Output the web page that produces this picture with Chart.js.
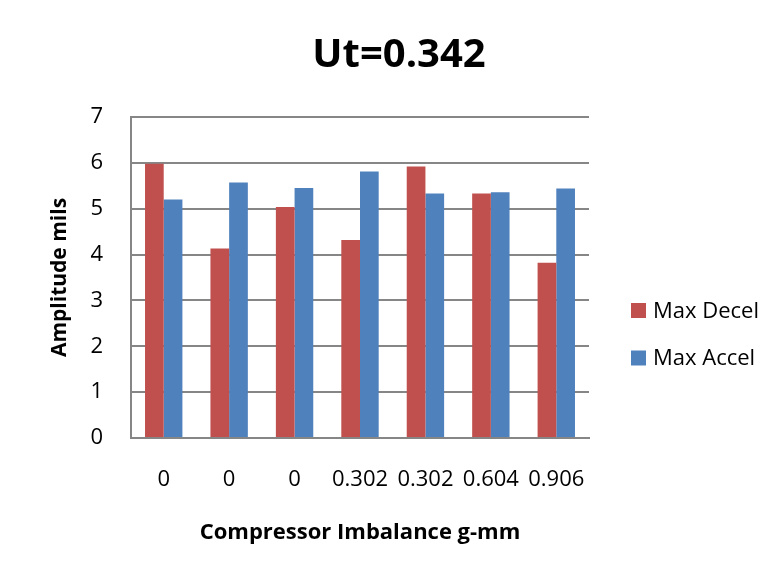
<!DOCTYPE html>
<html>
<head>
<meta charset="utf-8">
<script src="https://cdn.jsdelivr.net/npm/chart.js@4.4.0/dist/chart.umd.min.js"></script>
<style>
  html, body { margin: 0; padding: 0; background: #ffffff; }
  #wrap { width: 778px; height: 578px; position: relative; }
</style>
</head>
<body>
<div id="wrap"><canvas id="c" width="778" height="578"></canvas></div>
<script>
const chartTitle = "Ut=0.342";
const categories = ["0", "0", "0", "0.302", "0.302", "0.604", "0.906"];
const seriesNames = ["Max Decel", "Max Accel"];
const maxDecel = [5.98, 4.13, 5.04, 4.32, 5.92, 5.33, 3.82];
const maxAccel = [5.20, 5.57, 5.45, 5.81, 5.33, 5.36, 5.44];
const yTicks = [0, 1, 2, 3, 4, 5, 6, 7];
const xAxisTitle = "Compressor Imbalance g-mm";
const yAxisTitle = "Amplitude mils";

const colors = ["#C0504D", "#4F81BD"];
const FONT = "'Open Sans', sans-serif";

const customTitleLegend = {
  id: 'customTitleLegend',
  afterDraw(chart) {
    const ctx = chart.ctx;
    ctx.save();
    // title
    ctx.font = "bold 40px " + FONT;
    ctx.fillStyle = "#000000";
    ctx.textAlign = "center";
    ctx.textBaseline = "middle";
    ctx.fillText(chartTitle, 399, 56);
    // legend
    const items = chart.data.datasets;
    const x0 = 631, ys = [310.5, 358];
    ctx.font = "22px " + FONT;
    ctx.textAlign = "left";
    items.forEach((ds, i) => {
      ctx.fillStyle = ds.backgroundColor;
      ctx.fillRect(x0, ys[i] - 7.5, 15, 15);
      ctx.fillStyle = "#000000";
      ctx.fillText(ds.label, x0 + 22, ys[i] + 1);
    });
    ctx.restore();
  }
};

new Chart(document.getElementById('c'), {
  type: 'bar',
  data: {
    labels: categories,
    datasets: [
      { label: seriesNames[0], data: maxDecel, backgroundColor: colors[0], borderWidth: 0,
        categoryPercentage: 2 / 3.5, barPercentage: 1 },
      { label: seriesNames[1], data: maxAccel, backgroundColor: colors[1], borderWidth: 0,
        categoryPercentage: 2 / 3.5, barPercentage: 1 }
    ]
  },
  options: {
    responsive: false,
    animation: false,
    layout: { padding: { left: 0, right: 189, top: 117, bottom: 0 } },
    plugins: {
      legend: { display: false },
      tooltip: { enabled: false },
      title: { display: false }
    },
    scales: {
      x: {
        grid: { display: false, drawTicks: false },
        border: { display: true, color: "#868686", width: 2 },
        ticks: { color: "#000000", font: { family: FONT, size: 22 }, padding: 28.8, maxRotation: 0, autoSkip: false },
        title: { display: true, text: xAxisTitle, color: "#000000",
                 font: { family: FONT, size: 22, weight: 'bold', lineHeight: 1.2 },
                 padding: { top: 0, bottom: 31.8 } },
        afterFit(scale) { scale.height = 140; }
      },
      y: {
        min: 0, max: 7,
        afterBuildTicks(scale) { scale.ticks = yTicks.map(v => ({ value: v })); },
        grid: { color: "#868686", lineWidth: 2, drawTicks: false },
        border: { display: true, color: "#868686", width: 2 },
        ticks: { color: "#000000", font: { family: FONT, size: 22 }, padding: 28 },
        title: { display: true, text: yAxisTitle, color: "#000000",
                 font: { family: FONT, size: 21, weight: 'bold', lineHeight: 1.2 },
                 padding: { top: 47.4, bottom: 0 } },
        afterFit(scale) { scale.width = 131; }
      }
    }
  },
  plugins: [customTitleLegend]
});
</script>
</body>
</html>
